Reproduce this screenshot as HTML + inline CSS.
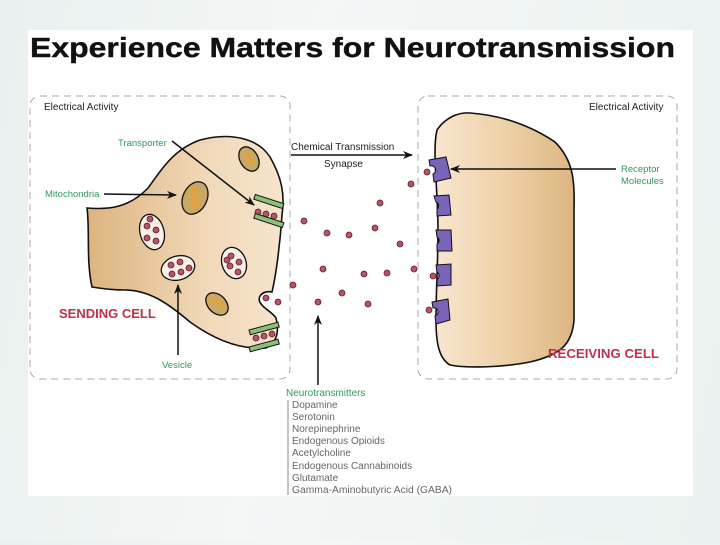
<!DOCTYPE html>
<html><head><meta charset="utf-8"><style>
html,body{margin:0;padding:0}
body{width:720px;height:540px;overflow:hidden;background:linear-gradient(100deg,#e9f0ef 0%,#f3f7f6 40%,#eaf1f0 100%);font-family:"Liberation Sans",sans-serif}
</style></head><body>
<svg width="720" height="540" viewBox="0 0 720 540" xmlns="http://www.w3.org/2000/svg" font-family="Liberation Sans, sans-serif">
<defs>
<linearGradient id="sg" x1="0" x2="1" y1="0" y2="0"><stop offset="0" stop-color="#dcb47f"/><stop offset="0.6" stop-color="#f1d8b8"/><stop offset="1" stop-color="#f6e4cc"/></linearGradient>
<linearGradient id="rg" x1="0" x2="1" y1="0" y2="0"><stop offset="0" stop-color="#f8e6cf"/><stop offset="0.5" stop-color="#eed1a8"/><stop offset="1" stop-color="#dcb681"/></linearGradient>
<marker id="ah" markerWidth="10" markerHeight="8" refX="9" refY="4" orient="auto" markerUnits="userSpaceOnUse"><path d="M0,0 L10,4 L0,8 L3,4z" fill="#111"/></marker>
</defs>
<rect x="28" y="30" width="665" height="466" fill="#fff"/>
<text x="30" y="57" font-size="28" font-weight="bold" fill="#111" stroke="#111" stroke-width="0.4" textLength="645" lengthAdjust="spacingAndGlyphs">Experience Matters for Neurotransmission</text>
<g fill="none" stroke="#aaa" stroke-width="1" stroke-dasharray="7,5">
<rect x="30" y="96" width="260" height="283" rx="10"/>
<rect x="418" y="96" width="259" height="283" rx="10"/>
</g>
<text x="44" y="110" font-size="10" fill="#222">Electrical Activity</text>
<text x="589" y="110" font-size="10" fill="#222">Electrical Activity</text>
<!-- sending cell -->
<path d="M87,208 C110,210 130,207 148,188 C160,172 172,150 200,140 C230,132 258,138 270,157 C282,178 285,195 282,215 C280,245 276,275 272,292 C262,290 255,298 262,305 C266,310 272,312 276,318 C279,330 278,342 266,348 C240,350 215,340 190,322 C170,305 150,290 125,290 C110,290 98,288 92,287 C86,260 90,230 87,208Z" fill="url(#sg)" stroke="#111" stroke-width="1.6"/>
<!-- receiving cell -->
<path d="M437,130 C445,118 458,112 470,113 C500,115 530,125 555,142 C573,160 575,180 574,210 L574,320 C572,345 560,355 530,362 C500,368 465,368 450,365 C438,358 436,340 436,320 C436,290 438,260 438,230 C438,190 432,150 437,130Z" fill="url(#rg)" stroke="#111" stroke-width="1.6"/>
<!-- mitochondria -->
<g stroke="#111" stroke-width="1.3">
<ellipse cx="195" cy="198" rx="12" ry="17" transform="rotate(25 195 198)" fill="#c9a866"/>
<path d="M190,188 l6,3 -4,5 6,3 -5,6 6,3" fill="none" stroke="#e8a030" stroke-width="3"/>
<ellipse cx="249" cy="159" rx="9" ry="13" transform="rotate(-30 249 159)" fill="#c9a866"/>
<path d="M245,153 l6,2 -4,4 6,2 -4,4" fill="none" stroke="#e8a030" stroke-width="2"/>
<ellipse cx="217" cy="304" rx="9" ry="13" transform="rotate(-45 217 304)" fill="#c9a866"/>
<path d="M210,302 l4,-3 2,5 4,-3 2,5 3,-3" fill="none" stroke="#e8a030" stroke-width="2"/>
</g>
<!-- vesicles -->
<g stroke="#111" stroke-width="1.3" fill="#f8f0e6">
<ellipse cx="152" cy="232" rx="12" ry="18" transform="rotate(-15 152 232)"/>
<ellipse cx="178" cy="268" rx="17" ry="12" transform="rotate(-15 178 268)"/>
<ellipse cx="234" cy="263" rx="12" ry="16" transform="rotate(-20 234 263)"/>
</g>
<g fill="#b55466" stroke="#5a1e2a" stroke-width="0.8">
<circle cx="147" cy="226" r="3"/><circle cx="156" cy="230" r="3"/><circle cx="147" cy="238" r="3"/><circle cx="156" cy="241" r="3"/><circle cx="150" cy="219" r="3"/>
<circle cx="171" cy="265" r="3"/><circle cx="180" cy="262" r="3"/><circle cx="172" cy="274" r="3"/><circle cx="181" cy="272" r="3"/><circle cx="189" cy="268" r="3"/>
<circle cx="231" cy="256" r="3"/><circle cx="239" cy="262" r="3"/><circle cx="230" cy="266" r="3"/><circle cx="238" cy="272" r="3"/><circle cx="227" cy="260" r="3"/>
<circle cx="258" cy="212" r="3"/><circle cx="266" cy="214" r="3"/><circle cx="274" cy="216" r="3"/>
<circle cx="256" cy="338" r="3"/><circle cx="264" cy="336" r="3"/><circle cx="272" cy="334" r="3"/>
<circle cx="266" cy="298" r="3"/><circle cx="278" cy="302" r="3"/>
</g>
<!-- transporters -->
<g fill="#8cc07a" stroke="#111" stroke-width="1">
<rect x="254" y="199" width="30" height="5" transform="rotate(18 269 201)"/>
<rect x="254" y="218" width="30" height="5" transform="rotate(18 269 220)"/>
<rect x="249" y="326" width="30" height="5" transform="rotate(-15 264 328)"/>
<rect x="249" y="343" width="30" height="5" transform="rotate(-15 264 345)"/>
</g>
<!-- receptors -->
<g fill="#7a64b8" stroke="#111" stroke-width="1">
<path d="M429,160 L446,157 L451,178 L434,182 L433,174 A4,4 0 0 0 430,166Z"/>
<path d="M434,196 L449,195 L451,215 L437,216 L437,209 A4,4 0 0 0 436,202Z"/>
<path d="M436,230 L451,230 L452,251 L437,251 L437,244 A4,4 0 0 0 437,237Z"/>
<path d="M436,265 L451,264 L451,285 L437,286 L437,279 A4,4 0 0 0 437,272Z"/>
<path d="M432,302 L448,299 L450,320 L436,324 L435,316 A4,4 0 0 0 433,308Z"/>
</g>
<!-- neurotransmitters -->
<g fill="#b55466" stroke="#5a1e2a" stroke-width="0.8">
<circle cx="427" cy="172" r="3"/><circle cx="433" cy="276" r="3"/><circle cx="429" cy="310" r="3"/>
<circle cx="411" cy="184" r="3"/><circle cx="380" cy="203" r="3"/><circle cx="304" cy="221" r="3"/>
<circle cx="327" cy="233" r="3"/><circle cx="349" cy="235" r="3"/><circle cx="375" cy="228" r="3"/><circle cx="400" cy="244" r="3"/>
<circle cx="323" cy="269" r="3"/><circle cx="364" cy="274" r="3"/><circle cx="387" cy="273" r="3"/><circle cx="414" cy="269" r="3"/>
<circle cx="293" cy="285" r="3"/><circle cx="342" cy="293" r="3"/><circle cx="318" cy="302" r="3"/><circle cx="368" cy="304" r="3"/>
</g>
<!-- arrows -->
<g stroke="#111" stroke-width="1.5" fill="none" marker-end="url(#ah)">
<line x1="104" y1="194" x2="176" y2="195"/>
<line x1="172" y1="141" x2="254" y2="205"/>
<line x1="178" y1="355" x2="178" y2="285"/>
<line x1="291" y1="155" x2="412" y2="155"/>
<line x1="616" y1="169" x2="451" y2="169"/>
<line x1="318" y1="385" x2="318" y2="316"/>
</g>
<line x1="288" y1="400" x2="288" y2="495" stroke="#888" stroke-width="1"/>
<g font-size="10">
<text x="118" y="146" fill="#2e9a5a" font-size="9.5">Transporter</text>
<text x="45" y="197" fill="#2e9a5a" font-size="9.5">Mitochondria</text>
<text x="162" y="368" fill="#2e9a5a" font-size="9.5">Vesicle</text>
<text x="291" y="150" fill="#222">Chemical Transmission</text>
<text x="324" y="167" fill="#222">Synapse</text>
<text x="621" y="172" fill="#2e9a5a" font-size="9.5">Receptor</text>
<text x="621" y="184" fill="#2e9a5a" font-size="9.5">Molecules</text>
<text x="286" y="396" fill="#2e9a5a">Neurotransmitters</text>
<g fill="#666"><text x="292" y="408">Dopamine</text><text x="292" y="420">Serotonin</text><text x="292" y="432">Norepinephrine</text><text x="292" y="444">Endogenous Opioids</text><text x="292" y="456">Acetylcholine</text><text x="292" y="469">Endogenous Cannabinoids</text><text x="292" y="481">Glutamate</text><text x="292" y="493" textLength="160" lengthAdjust="spacingAndGlyphs">Gamma-Aminobutyric Acid (GABA)</text></g>
</g>
<text x="59" y="318" font-size="13" font-weight="bold" fill="#c0304a">SENDING CELL</text>
<text x="548" y="358" font-size="13" font-weight="bold" fill="#c0304a" textLength="111" lengthAdjust="spacingAndGlyphs">RECEIVING CELL</text>
</svg>
</body></html>
